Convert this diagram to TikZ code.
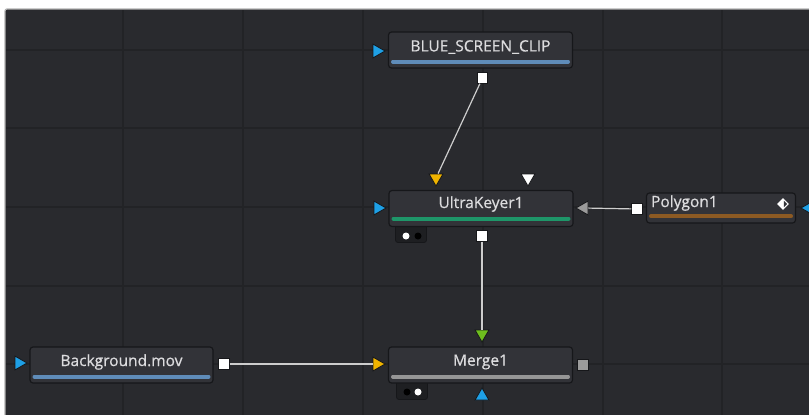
\documentclass[tikz,border=0pt]{standalone}
\usepackage{fontspec}
\setmainfont{Open Sans}
\newfontfamily\nodefont{Open Sans}[FakeBold=0.7]
\usetikzlibrary{positioning,shapes.geometric}
\definecolor{canvas}{RGB}{41,42,46}
\definecolor{gridc}{RGB}{34,35,38}
\definecolor{toolbg}{RGB}{50,51,56}
\definecolor{toolrim}{RGB}{22,23,26}
\definecolor{tabbg}{RGB}{30,31,34}
\definecolor{ttxt}{RGB}{220,220,222}
\definecolor{wirec}{RGB}{205,205,205}
\definecolor{pblue}{RGB}{30,160,230}
\definecolor{pyellow}{RGB}{240,180,0}
\definecolor{pgreen}{RGB}{110,190,30}
\definecolor{pgray}{RGB}{155,155,155}
\definecolor{barblue}{RGB}{95,140,185}
\definecolor{bargreen}{RGB}{30,150,105}
\definecolor{bargray}{RGB}{150,150,150}
\definecolor{barbrown}{RGB}{140,90,35}
\newcommand{\toolbar}[3]{\draw[bar=#2] ([xshift=5pt,yshift=#3]#1.south west) -- ([xshift=-5pt,yshift=#3]#1.south east);}
\tikzset{
  gridl/.style={gridc,line width=1.6pt},
  tool/.style={draw=toolrim,fill=toolbg,line width=1.2pt,rounded corners=3pt,minimum width=184pt,minimum height=36pt,inner sep=0pt},
  ttl/.style={text=ttxt,font=\nodefont\fontsize{15.5}{17}\selectfont,inner sep=0pt},
  bar/.style={line width=3.8pt,line cap=round,#1},
  wire/.style={wirec,line width=1.2pt},
  tri/.style={regular polygon,regular polygon sides=3,minimum size=16pt,inner sep=0pt,draw=toolrim,line width=0.8pt,fill=#1},
  pdown/.style={tri=#1,shape border rotate=180},
  pright/.style={tri=#1,shape border rotate=-90},
  pleft/.style={tri=#1,shape border rotate=90},
  pup/.style={tri=#1},
  outsq/.style={rectangle,draw=toolrim,line width=0.8pt,fill=#1,minimum size=10.5pt,inner sep=0pt},
  tab/.style={draw=toolrim,fill=tabbg,line width=0.8pt,rounded corners=2.5pt,minimum width=31pt,minimum height=19pt,inner sep=0pt},
  dot/.style={circle,inner sep=0pt,minimum size=7pt,fill=#1}
}
\begin{document}
\begin{tikzpicture}[x=1pt,y=-1pt]
  \useasboundingbox (0,0) rectangle (809,415);
  % canvas and grid
  \fill[white] (0,0) rectangle (809,415);
  \fill[canvas,rounded corners=2pt] (5,9) rectangle (812,418);
  \draw[gray!60,line width=1.2pt,rounded corners=2pt] (5,418) -- (5,9) -- (812,9);
  \foreach \gx in {123,243,363,483,603,722} \draw[gridl] (\gx,10) -- (\gx,415);
  \foreach \gy in {50,128,207,286,364} \draw[gridl] (6,\gy) -- (809,\gy);

  % BLUE_SCREEN_CLIP
  \node[tool] (clip) at (480.5,50) {};
  \node[ttl] (cliptxt) at ([yshift=3pt]clip.center) {BLUE\_SCREEN\_CLIP};
  \toolbar{clip}{barblue}{7pt}
  \node[pright=pblue] (clipin) at (377,51) {};
  \node[outsq=white] (clipout) at (482.5,78) {};

  % UltraKeyer1
  \node[tab] (uktab) at (411,233) {};
  \node[dot=white] at (406,236) {}; \node[dot=black] at (418,236) {};
  \node[tool] (uk) at (481,208.5) {};
  \node[ttl] (uktxt) at ([yshift=4.5pt]uk.center) {UltraKeyer1};
  \toolbar{uk}{bargreen}{8.5pt}
  \node[pdown=pyellow] (ukfg) at (436,178) {};
  \node[pdown=white] (ukgm) at (528,178) {};
  \node[pright=pblue] (ukin) at (378,208) {};
  \node[pleft=pgray] (ukmask) at (584,208) {};
  \node[outsq=white] (ukout) at (482,236) {};

  % Polygon1
  \node[tool,minimum width=149pt,minimum height=30pt] (poly) at (721,208) {};
  \node[ttl,anchor=west] (polytxt) at ([xshift=5pt,yshift=5pt]poly.west) {Polygon1};
  \toolbar{poly}{barbrown}{7.5pt}
  \node[diamond,fill=white,minimum size=12pt,inner sep=0pt] (polykey) at (783,204) {};
  \fill[toolbg] ([xshift=0.8pt,yshift=3.2pt]polykey.center) -- ([xshift=4pt]polykey.center) -- ([xshift=0.8pt,yshift=-3.2pt]polykey.center) -- cycle;
  \node[outsq=white] (polyout) at (637,209) {};
  \node[pleft=pblue] (polyin) at (809,208) {};

  % Background.mov
  \node[tool,minimum width=183pt] (bg) at (121.5,365) {};
  \node[ttl] (bgtxt) at ([yshift=3pt]bg.center) {Background.mov};
  \toolbar{bg}{barblue}{7pt}
  \node[pright=pblue] (bgin) at (19,363) {};
  \node[outsq=white] (bgout) at (224,364) {};

  % Merge1
  \node[tab] (mgtab) at (412,390) {};
  \node[dot=black] at (407,392) {}; \node[dot=white] at (418,392) {};
  \node[tool] (mg) at (480.5,365) {};
  \node[ttl] (mgtxt) at ([yshift=3pt]mg.center) {Merge1};
  \toolbar{mg}{bargray}{7pt}
  \node[pright=pyellow] (mgbg) at (377,364) {};
  \node[pdown=pgreen] (mgfg) at (482,334) {};
  \node[pup=pblue] (mgmask) at (482,396) {};
  \node[outsq=pgray,minimum size=11pt] (mgout) at (583,365) {};

  % wires
  \draw[wire] (clipout) -- (ukfg);
  \draw[wire] (ukout) -- (mgfg);
  \draw[wire] (polyout) -- (ukmask);
  \draw[wire] (bgout) -- (mgbg);
\end{tikzpicture}
\end{document}
